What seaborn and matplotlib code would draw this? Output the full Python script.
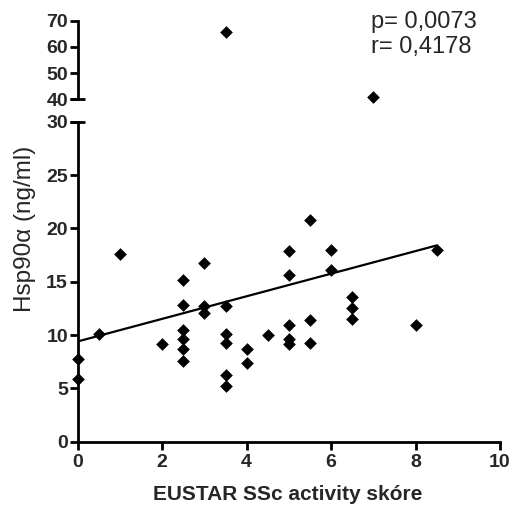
import numpy as np
import pandas as pd
import matplotlib
matplotlib.use("Agg")
import matplotlib.pyplot as plt
import seaborn as sns

# EUSTAR activity score and serum Hsp90alpha for each patient
activity = [0, 0, 0.5, 1, 2,
            2.5, 2.5, 2.5, 2.5, 2.5, 2.5,
            3, 3, 3,
            3.5, 3.5, 3.5, 3.5, 3.5, 3.5,
            4, 4, 4.5,
            5, 5, 5, 5, 5,
            5.5, 5.5, 5.5,
            6, 6,
            6.5, 6.5, 6.5,
            7, 8, 8.5]
hsp90 = [7.8, 5.85, 10.1, 17.6, 9.2,
         15.2, 12.8, 10.5, 9.6, 8.65, 7.6,
         16.8, 12.7, 12.1,
         65.6, 12.75, 10.1, 9.3, 6.3, 5.25,
         8.65, 7.35, 10.0,
         17.9, 15.65, 10.9, 9.6, 9.2,
         20.75, 11.4, 9.3,
         18.0, 16.1,
         13.55, 12.5, 11.55,
         40.8, 10.9, 18.0]

# linear regression line
fit_x = [0, 8.5]
fit_y = [9.4, 18.4]

stats_lines = ["p= 0,0073", "r= 0,4178"]

x_ticks = [0, 2, 4, 6, 8, 10]
y_ticks_low = [0, 5, 10, 15, 20, 25, 30]
y_ticks_high = [40, 50, 60, 70]
x_label = "EUSTAR SSc activity skóre"
y_label = "Hsp90\u03b1 (ng/ml)"

sns.set_style("ticks")
plt.rcParams["font.family"] = ["Liberation Sans", "DejaVu Sans"]

df = pd.DataFrame({"activity": activity, "hsp90": hsp90})
low = df[df["hsp90"] < 35]
high = df[df["hsp90"] >= 35]

fig = plt.figure(figsize=(5.12, 5.09), dpi=100)
ax_lo = fig.add_axes([0.1518, 0.1322, 0.8248, 0.6287])
ax_hi = fig.add_axes([0.1518, 0.8049, 0.8248, 0.1544])

marker_kw = dict(marker="D", s=42, color="black", edgecolor="black",
                 linewidth=0, clip_on=False, zorder=5, legend=False)
sns.scatterplot(data=low, x="activity", y="hsp90", ax=ax_lo, **marker_kw)
sns.scatterplot(data=high, x="activity", y="hsp90", ax=ax_hi, **marker_kw)
sns.lineplot(x=fit_x, y=fit_y, ax=ax_lo, color="black", linewidth=1.6,
             zorder=4)

tick_font = 14
for ax in (ax_lo, ax_hi):
    ax.set_xlim(0, 10)
    ax.tick_params(direction="out", length=5.5, width=2, color="black")
    ax.tick_params(axis="y", pad=1.5)
    ax.tick_params(axis="x", pad=3)
    for side in ("top", "right"):
        ax.spines[side].set_visible(False)
    for side in ("left", "bottom"):
        ax.spines[side].set_linewidth(2)
        ax.spines[side].set_color("black")
    ax.set_xlabel("")
    ax.set_ylabel("")
    ax.set_facecolor("none")

ax_lo.set_ylim(0, 30)
ax_lo.set_xticks(x_ticks, [str(v) for v in x_ticks],
                 fontweight="bold", fontsize=tick_font)
ax_lo.set_yticks(y_ticks_low, [str(v) for v in y_ticks_low],
                 fontweight="bold", fontsize=tick_font)

ax_hi.set_ylim(40, 70)
ax_hi.set_yticks(y_ticks_high, [str(v) for v in y_ticks_high],
                 fontweight="bold", fontsize=tick_font)
ax_hi.spines["bottom"].set_visible(False)
ax_hi.set_xticks([])

# break marks crossing the axis at the gap
ax_lo.axhline(30, xmin=-0.0175, xmax=0.0175, color="black", lw=2,
              clip_on=False, solid_capstyle="butt")
ax_hi.axhline(40, xmin=-0.0175, xmax=0.0175, color="black", lw=2,
              clip_on=False, solid_capstyle="butt")

fig.text(0.5625, 0.0177, x_label, ha="center", va="baseline",
         fontsize=15, fontweight="bold")
fig.text(0.049, 0.55, y_label, ha="center", va="center",
         rotation=90, fontsize=17.5)

for i, line in enumerate(stats_lines):
    fig.text(0.7246, 0.945 - i * 0.049, line, ha="left", va="baseline",
             fontsize=17)

fig.savefig("out.png", dpi=100, facecolor="white")
